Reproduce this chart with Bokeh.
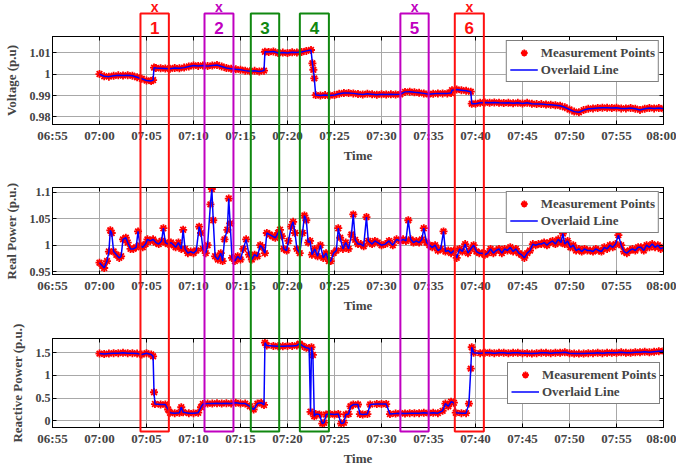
from bokeh.plotting import figure
from bokeh.models import (Range1d, FixedTicker, LinearAxis, ColumnDataSource, GridBox)
from bokeh.layouts import column
from bokeh.core.properties import value
from bokeh.embed import file_html
from bokeh.resources import INLINE

# ---------------- data (minutes after 07:00) ----------------
X_TICKS = [-5, 0, 5, 10, 15, 20, 25, 30, 35, 40, 45, 50, 55, 60]
X_TICK_LABELS = ["06:55", "07:00", "07:05", "07:10", "07:15", "07:20", "07:25",
                 "07:30", "07:35", "07:40", "07:45", "07:50", "07:55", "08:00"]

V_T = [0, 0.5, 1, 1.5, 2, 2.5, 3, 3.5, 4, 4.5,
       5, 5.5, 5.7, 5.8, 6, 6.5, 7, 7.5, 8, 8.5,
       9, 9.5, 10, 10.5, 11, 11.5, 12, 12.5, 13, 13.5,
       14, 14.5, 15, 15.5, 16, 16.5, 17, 17.5, 17.6, 18,
       18.5, 19, 19.5, 20, 20.5, 21, 21.5, 22, 22.5, 22.65,
       22.75, 22.85, 23, 23.5, 24, 24.5, 25, 25.5, 26, 26.5,
       27, 27.5, 28, 28.5, 29, 29.5, 30, 30.5, 31, 31.5,
       32, 32.5, 33, 33.5, 34, 34.5, 35, 35.5, 36, 36.5,
       37, 37.4, 37.5, 38, 38.5, 39, 39.5, 39.6, 40, 40.5,
       41, 41.5, 42, 42.5, 43, 43.5, 44, 44.5, 45, 45.5,
       46, 46.5, 47, 47.5, 48, 48.5, 49, 49.5, 50, 50.5,
       51, 51.5, 52, 52.5, 53, 53.5, 54, 54.5, 55, 55.5,
       56, 56.5, 57, 57.5, 58, 58.5, 59, 59.5, 60]
VOLTAGE = [1.0000, 0.9990, 0.9988, 0.9992, 0.9994, 0.9993, 0.9995, 0.9992, 0.9985, 0.9978,
           0.9970, 0.9968, 0.9972, 1.0030, 1.0028, 1.0027, 1.0026, 1.0025, 1.0028, 1.0027,
           1.0030, 1.0035, 1.0040, 1.0038, 1.0040, 1.0037, 1.0040, 1.0042, 1.0035, 1.0028,
           1.0025, 1.0022, 1.0020, 1.0016, 1.0013, 1.0015, 1.0012, 1.0016, 1.0104, 1.0103,
           1.0105, 1.0098, 1.0100, 1.0098, 1.0102, 1.0100, 1.0103, 1.0108, 1.0112, 1.0050,
           1.0020, 0.9980, 0.9902, 0.9900, 0.9902, 0.9900, 0.9902, 0.9908, 0.9912, 0.9912,
           0.9910, 0.9907, 0.9905, 0.9908, 0.9906, 0.9904, 0.9906, 0.9905, 0.9906, 0.9905,
           0.9906, 0.9917, 0.9918, 0.9915, 0.9913, 0.9910, 0.9906, 0.9908, 0.9910, 0.9910,
           0.9910, 0.9912, 0.9925, 0.9928, 0.9925, 0.9922, 0.9918, 0.9862, 0.9862, 0.9866,
           0.9868, 0.9866, 0.9868, 0.9866, 0.9865, 0.9866, 0.9864, 0.9866, 0.9863, 0.9866,
           0.9862, 0.9860, 0.9860, 0.9858, 0.9857, 0.9855, 0.9852, 0.9845, 0.9835, 0.9825,
           0.9822, 0.9832, 0.9838, 0.9840, 0.9842, 0.9843, 0.9843, 0.9842, 0.9843, 0.9840,
           0.9840, 0.9842, 0.9838, 0.9833, 0.9838, 0.9842, 0.9840, 0.9842, 0.9838]

P_T = [0.0, 0.3, 0.5, 0.8, 1.0, 1.15, 1.3, 1.5, 1.8, 2.1,
       2.3, 2.5, 2.8, 3.0, 3.3, 3.6, 3.9, 4.1, 4.3, 4.6,
       4.9, 5.1, 5.4, 5.7, 6.0, 6.3, 6.6, 6.8, 7.0, 7.3,
       7.6, 7.9, 8.1, 8.4, 8.7, 8.9, 9.1, 9.4, 9.7, 10.0,
       10.3, 10.6, 10.8, 11.0, 11.3, 11.5, 11.8, 11.95, 12.1, 12.3,
       12.6, 12.9, 13.1, 13.3, 13.6, 13.75, 13.9, 14.1, 14.4, 14.7,
       15.0, 15.3, 15.6, 15.9, 16.2, 16.5, 16.8, 17.1, 17.3, 17.6,
       17.8, 18.1, 18.4, 18.7, 19.0, 19.2, 19.4, 19.6, 19.9, 20.1,
       20.4, 20.6, 20.8, 21.0, 21.3, 21.6, 21.8, 22.0, 22.2, 22.4,
       22.6, 22.9, 23.2, 23.5, 23.8, 24.1, 24.4, 24.6, 24.9, 25.2,
       25.4, 25.6, 25.9, 26.2, 26.5, 26.8, 27.0, 27.2, 27.5, 27.8,
       28.1, 28.4, 28.6, 28.8, 29.0, 29.3, 29.6, 30.0, 30.4, 30.8,
       31.2, 31.6, 32.0, 32.3, 32.6, 32.85, 33.1, 33.4, 33.7, 34.0,
       34.3, 34.5, 34.8, 35.1, 35.4, 35.7, 36.0, 36.3, 36.6, 36.8,
       37.1, 37.4, 37.7, 38.0, 38.3, 38.6, 38.9, 39.2, 39.5, 39.8,
       40.1, 40.4, 40.7, 41.0, 41.3, 41.6, 41.9, 42.2, 42.5, 42.8,
       43.1, 43.4, 43.7, 44.0, 44.3, 44.6, 44.9, 45.2, 45.5, 45.8,
       46.1, 46.4, 46.7, 47.0, 47.3, 47.6, 47.9, 48.2, 48.5, 48.8,
       49.1, 49.3, 49.5, 49.8, 50.1, 50.4, 50.7, 51.0, 51.3, 51.6,
       51.9, 52.2, 52.5, 52.8, 53.1, 53.4, 53.7, 54.0, 54.3, 54.6,
       54.9, 55.2, 55.5, 55.8, 56.1, 56.4, 56.7, 57.0, 57.3, 57.6,
       57.9, 58.2, 58.5, 58.8, 59.1, 59.4, 59.7, 60.0]
REAL_POWER = [0.967, 0.961, 0.957, 0.970, 0.988, 1.028, 1.023, 0.988, 0.982, 0.976,
              0.979, 1.011, 1.014, 1.005, 0.993, 0.993, 0.996, 1.026, 1.000, 0.996,
              1.002, 1.011, 1.008, 1.011, 1.005, 1.002, 1.008, 1.032, 1.005, 1.002,
              1.005, 1.000, 0.996, 1.005, 0.993, 1.029, 0.993, 0.985, 0.988, 0.985,
              0.990, 1.035, 1.023, 0.993, 0.985, 1.000, 1.077, 1.106, 1.047, 0.979,
              0.973, 0.985, 0.970, 1.011, 1.029, 1.088, 1.041, 0.976, 0.970, 0.979,
              0.973, 0.993, 1.011, 0.982, 0.973, 0.982, 0.979, 1.000, 0.996, 0.985,
              1.023, 1.020, 1.017, 1.014, 1.023, 1.029, 1.017, 0.993, 0.990, 1.008,
              1.035, 1.044, 1.023, 0.993, 0.985, 1.023, 1.056, 1.047, 1.005, 1.008,
              0.982, 0.993, 0.979, 1.000, 0.976, 0.985, 0.970, 0.970, 0.985, 0.990,
              1.032, 1.014, 0.993, 1.005, 0.993, 1.020, 1.058, 1.010, 1.002, 1.002,
              0.998, 1.053, 1.008, 1.005, 1.002, 1.008, 1.005, 1.000, 1.002, 1.008,
              1.000, 1.011, 1.008, 1.011, 1.008, 1.047, 1.011, 1.005, 1.008, 1.005,
              1.011, 1.032, 1.005, 1.000, 0.996, 1.000, 0.990, 0.993, 1.026, 0.988,
              0.990, 0.985, 0.990, 0.976, 0.993, 0.988, 1.002, 0.985, 0.993, 1.000,
              0.988, 0.985, 0.985, 0.982, 0.985, 0.993, 0.985, 0.990, 0.993, 0.985,
              0.993, 0.990, 0.996, 0.988, 0.993, 0.985, 0.982, 0.976, 0.985, 0.990,
              1.002, 1.000, 1.002, 1.002, 1.005, 1.000, 1.005, 1.008, 1.002, 1.011,
              1.005, 1.022, 1.002, 1.008, 0.996, 1.000, 0.990, 0.993, 0.988, 0.993,
              0.990, 0.990, 0.988, 0.993, 0.990, 0.988, 0.996, 0.993, 1.000, 0.996,
              1.002, 1.019, 1.000, 0.988, 0.985, 0.990, 0.993, 0.990, 0.996, 0.996,
              0.990, 1.000, 0.996, 1.002, 0.996, 1.000, 0.993, 0.996]

Q_T = [0, 0.5, 1, 1.5, 2, 2.5, 3, 3.5, 4, 4.5,
       5, 5.5, 5.7, 5.8, 5.9, 6.5, 7, 7.3, 7.5, 8,
       8.5, 8.7, 8.9, 9.5, 10, 10.5, 10.8, 11, 11.5, 12,
       12.5, 13, 13.5, 14, 14.5, 15, 15.5, 16, 16.4, 16.8,
       17.2, 17.5, 17.6, 17.8, 18.5, 19, 19.5, 20, 20.5, 21,
       21.3, 21.6, 22, 22.3, 22.45, 22.55, 22.7, 22.85, 23, 23.4,
       23.7, 23.9, 24.1, 24.5, 25, 25.4, 25.7, 26, 26.2, 26.5,
       26.7, 27, 27.5, 27.7, 28, 28.5, 28.8, 29.5, 30, 30.5,
       30.9, 31.5, 32, 32.5, 33, 33.5, 34, 34.5, 35, 35.5,
       36, 36.5, 36.8, 37.1, 37.4, 37.7, 37.9, 38.5, 39, 39.3,
       39.5, 39.6, 39.8, 40.5, 41, 41.5, 42, 42.5, 43, 43.5,
       44, 44.5, 45, 45.5, 46, 46.5, 47, 47.5, 48, 48.5,
       49, 49.5, 50, 50.5, 51, 51.5, 52, 52.5, 53, 53.5,
       54, 54.5, 55, 55.5, 56, 56.5, 57, 57.5, 58, 58.5,
       59, 59.5, 60]
REACTIVE_POWER = [1.48, 1.47, 1.48, 1.49, 1.49, 1.50, 1.49, 1.49, 1.48, 1.46,
                  1.49, 1.46, 1.42, 0.63, 0.37, 0.36, 0.36, 0.25, 0.18, 0.17,
                  0.18, 0.30, 0.19, 0.17, 0.17, 0.18, 0.30, 0.37, 0.38, 0.38,
                  0.39, 0.38, 0.39, 0.38, 0.40, 0.38, 0.38, 0.32, 0.25, 0.38,
                  0.40, 0.35, 1.72, 1.66, 1.65, 1.64, 1.64, 1.65, 1.65, 1.66,
                  1.70, 1.65, 1.61, 1.60, 0.20, 1.62, 1.45, 0.10, 0.15, 0.14,
                  -0.06, -0.04, 0.14, 0.15, 0.14, 0.15, -0.06, -0.04, 0.14, 0.15,
                  0.32, 0.36, 0.36, 0.15, 0.14, 0.15, 0.36, 0.37, 0.37, 0.37,
                  0.15, 0.16, 0.17, 0.16, 0.17, 0.17, 0.17, 0.18, 0.17, 0.18,
                  0.17, 0.22, 0.38, 0.32, 0.42, 0.40, 0.18, 0.17, 0.17, 0.38,
                  1.15, 1.62, 1.50, 1.49, 1.50, 1.50, 1.49, 1.50, 1.50, 1.49,
                  1.50, 1.50, 1.49, 1.49, 1.48, 1.49, 1.50, 1.50, 1.49, 1.50,
                  1.50, 1.51, 1.49, 1.48, 1.48, 1.48, 1.49, 1.49, 1.50, 1.49,
                  1.50, 1.50, 1.50, 1.51, 1.50, 1.50, 1.51, 1.51, 1.52, 1.51,
                  1.52, 1.53, 1.54]

V_TICKS = [0.98, 0.99, 1.0, 1.01]
V_TICK_LABELS = ["0.98", "0.99", "1", "1.01"]
P_TICKS = [0.95, 1.0, 1.05, 1.1]
P_TICK_LABELS = ["0.95", "1", "1.05", "1.1"]
Q_TICKS = [0.0, 0.5, 1.0, 1.5]
Q_TICK_LABELS = ["0", "0.5", "1", "1.5"]

BOX_START = [4.54, 11.33, 16.24, 21.44, 32.1, 37.87]
BOX_END = [7.55, 14.4, 19.25, 24.52, 35.1, 40.95]
BOX_NAMES = ["1", "2", "3", "4", "5", "6"]
BOX_MARKS = ["x", "x", "", "", "x", "x"]
BOX_COLORS = ["#ff1010", "#c000c0", "#108810", "#108810", "#c000c0", "#ff1010"]

SERIF = "Liberation Serif"
SANS = "Liberation Sans"
W = 676
H = 468


def style_axis(ax, size):
    ax.major_label_text_font = SERIF
    ax.major_label_text_font_style = "bold"
    ax.major_label_text_font_size = size
    ax.axis_label_text_font = SERIF
    ax.axis_label_text_font_style = "bold"
    ax.axis_label_text_font_size = "13px"
    ax.major_tick_in = 4
    ax.major_tick_out = 0
    ax.minor_tick_line_color = None
    ax.axis_line_color = "black"
    ax.major_tick_line_color = "black"


def panel(height, btop, bbottom, t, vals, yr, yticks, ylabels, ylabel, legend_loc):
    p = figure(width=W, height=height, output_backend="svg", toolbar_location=None,
               x_range=Range1d(-5, 60), y_range=Range1d(*yr),
               min_border_left=50, min_border_right=13,
               min_border_top=btop, min_border_bottom=bbottom,
               outline_line_color="black", outline_line_width=1,
               background_fill_color="white", border_fill_color="white")
    xt = FixedTicker(ticks=X_TICKS)
    yt = FixedTicker(ticks=yticks)
    xa = p.xaxis[0]
    xa.ticker = xt
    xa.major_label_overrides = dict(zip(X_TICKS, X_TICK_LABELS))
    xa.axis_label = "Time"
    xa.major_label_standoff = 3
    xa.axis_label_standoff = 2
    style_axis(xa, "13px")
    ya = p.yaxis[0]
    ya.ticker = yt
    ya.major_label_overrides = dict(zip(yticks, ylabels))
    ya.axis_label = ylabel
    ya.major_label_standoff = 2
    ya.axis_label_standoff = 8
    style_axis(ya, "12px")
    for side, tk in (("above", xt), ("right", yt)):
        ax = LinearAxis(ticker=tk, major_label_text_font_size="1px",
                        major_label_text_color=None,
                        major_label_standoff=0, major_tick_in=4, major_tick_out=0,
                        minor_tick_line_color=None, axis_line_color="black")
        p.add_layout(ax, side)
    p.xgrid.ticker = xt
    p.ygrid.ticker = yt
    for g in (p.xgrid[0], p.ygrid[0]):
        g.grid_line_color = "#a8a8a8"
        g.grid_line_width = 1

    src = ColumnDataSource(dict(t=t, v=vals))
    p.scatter("t", "v", source=src, marker="asterisk", size=8, line_color="#ff0000",
              line_width=1.8, legend_label="Measurement Points")
    p.line("t", "v", source=src, line_color="#0000ff", line_width=1.5,
           legend_label="Overlaid Line")
    lg = p.legend[0]
    lg.location = legend_loc
    lg.margin = 4
    lg.padding = 3
    lg.spacing = 0
    lg.label_height = 17
    lg.glyph_height = 17
    lg.glyph_width = 28
    lg.label_standoff = 3
    lg.label_text_font = SERIF
    lg.label_text_font_style = "bold"
    lg.label_text_font_size = "13px"
    lg.border_line_color = "black"
    lg.border_line_width = 1
    lg.background_fill_alpha = 1
    return p


p1 = panel(165, 36, 36, V_T, VOLTAGE, (0.9765, 1.0175), V_TICKS, V_TICK_LABELS,
           "Voltage (p.u)", "top_right")
p2 = panel(150, 22, 35, P_T, REAL_POWER, (0.9447, 1.1088), P_TICKS, P_TICK_LABELS,
           "Real Power (p.u.)", "top_right")
p3 = panel(153, 23, 36, Q_T, REACTIVE_POWER, (-0.146, 1.8125), Q_TICKS, Q_TICK_LABELS,
           "Reactive Power (p.u.)", (455, 23))
stack = column(p1, p2, p3, spacing=0)

# transparent overlay sharing the same horizontal time scale, spanning all three panels
ov = figure(frame_width=W - 63, frame_height=H, output_backend="svg", toolbar_location=None,
            x_range=Range1d(-5, 60), y_range=Range1d(H, 0),
            x_axis_location=None, y_axis_location=None, title=None,
            min_border_left=50, min_border_right=13, min_border_top=0, min_border_bottom=0,
            outline_line_color=None, background_fill_alpha=0, border_fill_alpha=0,
            align="start")
ov.grid.visible = False
mids = [(s + e) / 2 for s, e in zip(BOX_START, BOX_END)]
ov.quad(left=BOX_START, right=BOX_END, top=13, bottom=431, fill_alpha=0,
        line_color=BOX_COLORS, line_width=2)
ov.text(x=mids, y=27.5, text=BOX_NAMES, text_color=BOX_COLORS,
        text_font=value(SANS), text_font_style="bold", text_font_size=value("17px"),
        text_align="center", text_baseline="middle")
mark_x = [m for m, k in zip(mids, BOX_MARKS) if k]
mark_c = [c for c, k in zip(BOX_COLORS, BOX_MARKS) if k]
mark_t = [k for k in BOX_MARKS if k]
ov.text(x=mark_x, y=6, text=mark_t, text_color=mark_c,
        text_font=value(SANS), text_font_style="bold", text_font_size=value("14px"),
        text_align="center", text_baseline="middle")

layout = GridBox(children=[(stack, 0, 0), (ov, 0, 0)], spacing=0)
open("out.html", "w").write(file_html(layout, INLINE))
